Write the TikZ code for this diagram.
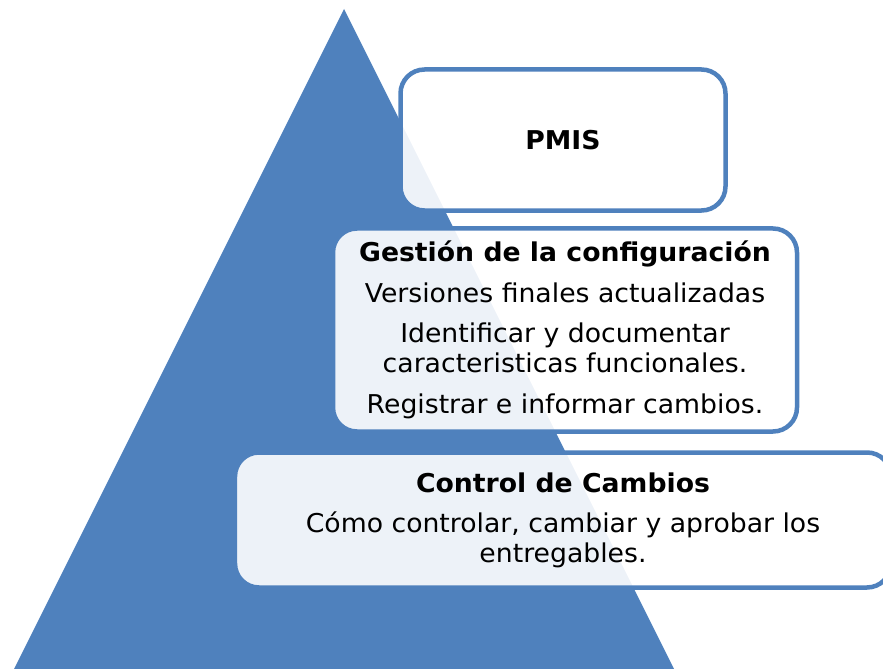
\documentclass[tikz,border=0pt]{standalone}
\usepackage{fontspec}
\setmainfont{DejaVu Sans}[FakeStretch=1.03]
\usepackage{xcolor}
\definecolor{pyrblue}{HTML}{4F81BD}

\begin{document}
\begin{tikzpicture}[x=1bp, y=-1bp,
  level/.style={draw=pyrblue, line width=4.5bp, rounded corners=24bp,
                fill=white, fill opacity=0.9, text opacity=1,
                inner sep=0pt, align=center,
                font=\fontsize{26}{30}\selectfont}
]
  \useasboundingbox (0,0) rectangle (883,669);
  % Pyramid
  \fill[pyrblue] (344,9) -- (674,669) -- (14,669) -- cycle;

  % Levels, top to bottom
  \node[level, minimum width=325bp, minimum height=141bp] (pmis) at (563,140)
    {\textbf{PMIS}};
  \node[level, minimum width=464bp, minimum height=203bp] (config) at (565,330)
    {\textbf{Gestión de la configuración}\\[11bp]
     Versiones finales actualizadas\\[10bp]
     Identificar y documentar\\
     caracteristicas funcionales.\\[11bp]
     Registrar e informar cambios.};
  \node[level, minimum width=656bp, minimum height=135bp] (cambios) at (563,520)
    {\textbf{Control de Cambios}\\[10bp]
     Cómo controlar, cambiar y aprobar los\\
     entregables.};
\end{tikzpicture}
\end{document}
